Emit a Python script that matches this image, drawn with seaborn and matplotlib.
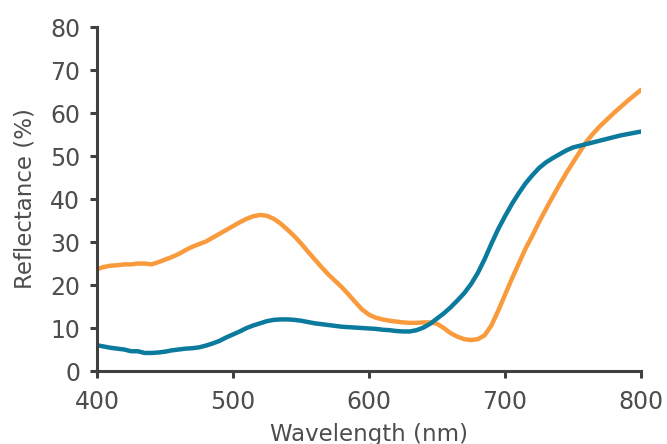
import pandas as pd
import matplotlib
matplotlib.use("Agg")
import matplotlib.pyplot as plt
import seaborn as sns

# wavelength grid (nm), 5 nm steps
wavelength = list(range(400, 805, 5))

# orange curve
refl_orange = [
    23.7, 24.2, 24.5, 24.6, 24.8, 24.8, 25.0, 25.0, 24.8, 25.3,
    25.9, 26.5, 27.2, 28.1, 28.9, 29.5, 30.1, 31.0, 31.9, 32.8,
    33.7, 34.6, 35.4, 36.0, 36.3, 36.1, 35.4, 34.3, 32.9, 31.4,
    29.7, 27.8, 26.0, 24.2, 22.5, 21.0, 19.5, 17.8, 16.0, 14.3,
    13.1, 12.4, 12.0, 11.7, 11.5, 11.3, 11.2, 11.2, 11.3, 11.3,
    11.0, 10.0, 8.8, 8.0, 7.4, 7.2, 7.4, 8.3, 10.6, 14.0,
    17.7, 21.4, 24.9, 28.4, 31.4, 34.6, 37.6, 40.5, 43.3, 46.0,
    48.5, 51.0, 53.4, 55.3, 57.0, 58.5, 60.0, 61.4, 62.8, 64.1,
    65.4,
]

# blue curve
refl_blue = [
    6.0, 5.7, 5.4, 5.2, 5.0, 4.6, 4.6, 4.2, 4.2, 4.3,
    4.5, 4.8, 5.0, 5.2, 5.3, 5.5, 5.9, 6.4, 7.0, 7.8,
    8.5, 9.2, 10.0, 10.6, 11.1, 11.6, 11.9, 12.0, 12.0, 11.9,
    11.7, 11.4, 11.1, 10.9, 10.7, 10.5, 10.3, 10.2, 10.1, 10.0,
    9.9, 9.8, 9.6, 9.5, 9.3, 9.2, 9.2, 9.5, 10.1, 11.0,
    12.2, 13.4, 14.8, 16.4, 18.1, 20.2, 22.8, 26.0, 29.6, 33.0,
    36.0, 38.8, 41.3, 43.6, 45.5, 47.2, 48.5, 49.5, 50.4, 51.3,
    52.0, 52.4, 52.8, 53.2, 53.6, 54.0, 54.4, 54.8, 55.1, 55.4,
    55.7,
]

x_ticks = [400, 500, 600, 700, 800]
y_ticks = [0, 10, 20, 30, 40, 50, 60, 70, 80]

df = pd.DataFrame({
    "Wavelength": wavelength * 2,
    "Reflectance": refl_orange + refl_blue,
    "series": ["orange"] * len(wavelength) + ["blue"] * len(wavelength),
})

sns.set_style("white")
plt.rcParams["font.family"] = ["DejaVu Sans"]

axis_col = "#404040"
text_col = "#4d4d4d"

fig = plt.figure(figsize=(6.67, 4.44), dpi=100)
ax = fig.add_axes([0.1454, 0.1644, 0.961 - 0.1454, 0.939 - 0.1644])

sns.lineplot(data=df, x="Wavelength", y="Reflectance", hue="series",
             palette={"orange": "#F99B3D", "blue": "#0B7B9D"},
             linewidth=3.2, legend=False, ax=ax)

ax.set_xlim(400, 800)
ax.set_ylim(0, 80)
ax.set_xticks(x_ticks)
ax.set_yticks(y_ticks)

for side in ["top", "right"]:
    ax.spines[side].set_visible(False)
for side in ["left", "bottom"]:
    ax.spines[side].set_color(axis_col)
    ax.spines[side].set_linewidth(2.2)

ax.tick_params(axis="both", direction="out", length=5, width=2.2,
               color=axis_col, labelsize=17, labelcolor=text_col,
               left=True, bottom=True)
ax.tick_params(axis="x", pad=9)
ax.tick_params(axis="y", pad=7)

ax.set_xlabel("Wavelength (nm)", fontsize=16.5, color=text_col, labelpad=6)
ax.set_ylabel("Reflectance (%)", fontsize=16.5, color=text_col, labelpad=10)

fig.savefig("out.png", dpi=100)
